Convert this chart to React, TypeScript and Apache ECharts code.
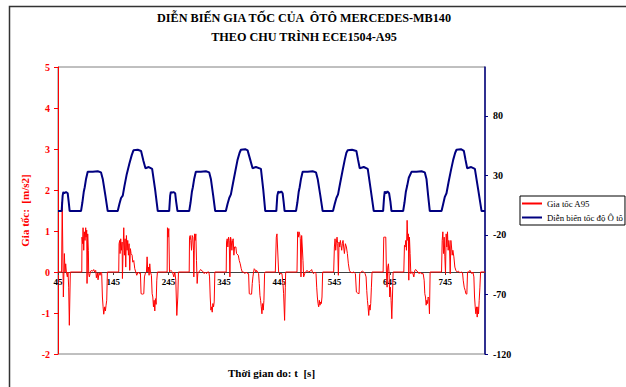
import { useEffect, useRef } from 'react';
import * as echarts from 'echarts';

const titleLines = ['DIỄN BIẾN GIA TỐC CỦA  ÔTÔ MERCEDES-MB140', 'THEO CHU TRÌNH ECE1504-A95'];
const seriesNames = ['Gia tốc A95', 'Diễn biến tốc độ Ô tô'];
const xAxisName = 'Thời gian do: t  [s]';
const yAxisName = 'Gia tốc:  [m/s2]';

// time axis: 45, 145, ... 745
const timeMin = 45;
const timeMax = 817;
const timeStep = 100;
// left axis (acceleration, m/s2)
const accelMin = -2;
const accelMax = 5;
const accelStep = 1;
// right axis (speed, km/h): ticks -120, -70, -20, 30, 80
const speedMin = -120;
const speedMax = 121;
const speedStep = 50;

// acceleration [t, a], one array per cycle
const accelCycle1: [number, number][] = [
  [45, 0], [51.5, 0], [52.6, 1.71], [54.7, -0.61], [56.5, 0.45], [57.7, 0], [58.9, 0.2], [60.1, 0], [61.9, -0.12], [63.1, 0], [64.3, -0.37], [65.5, -1.3], [67.3, 0],
  [88, 0], [88.4, 0.85], [89.6, 0.69], [90.3, 1.08], [91.5, 0.53], [92.7, 0.98], [93.9, 0.77], [95.1, 1.08], [95.7, 0.85], [96.9, 1.02], [97.5, -0.28], [98.7, 0.93], [99.9, 0.53], [100.5, -0.04], [101.7, -0.12], [103.5, 0], [105.3, 0.04], [107.8, 0.02], [109.6, 0.06], [111.4, 0], [113.2, 0.04], [114.4, -0.14], [116.2, -0.02], [117.4, -0.19], [119.2, -0.02], [121, -0.08], [122.8, 0], [124, -0.04], [125.3, -0.61], [126.5, -0.85], [127.7, -1.03], [129.5, -0.85], [130.7, -0.95], [131.9, -0.81], [133.1, -0.69], [134.3, 0],
  [154.8, 0], [155.4, 0.69], [156.6, 0.77], [157.2, 0.45], [158.4, 0.81], [159.6, 0.53], [160.9, 0.73], [161.5, -0.16], [162.7, 0.53], [163.9, 1.08], [165.1, 0.41], [166.3, 0.81], [167.5, 0.12], [168.7, 0.89], [169.9, 0.53], [171.1, 0.77], [172.3, 0.41], [173.5, 0.69], [174.7, 0.04], [175.9, 0.57], [177.1, 0.45], [179, 0.41], [180.2, 0.24], [182, 0.28], [183.8, 0.08], [185.6, 0], [187.4, -0.08], [189.8, 0], [192.2, -0.04], [194, -0.02], [195.2, -0.53], [197.7, -0.54], [200.1, -0.53], [201.3, -0.12], [203.1, -0.02], [204.9, 0], [206.1, 0.37], [207.3, 0], [208.5, 0.12], [209.7, -0.08], [210.9, 0.2], [212.1, 0], [213.9, -0.08], [215.2, -0.53], [216.4, -0.61], [217.6, -0.85], [218.8, -0.69], [220, -0.95], [221.2, -0.65], [222.4, -0.79], [223.6, -0.2], [224.8, 0],
];
const accelCycle2: [number, number][] = [
  [242.3, 0], [242.9, 1.08], [244.1, 0.85], [245.3, 1.06], [246.6, 0], [249, 0.04], [252, 0], [254.4, -0.12], [256.2, 0], [258, -0.2], [259.8, -1.06], [261.6, -0.61], [262.8, 0],
  [282.2, 0], [282.8, 0.85], [284, 0.89], [285.2, 0.77], [286.4, 0.53], [287.6, 0.89], [288.8, 0.85], [290, 0.53], [290.6, -0.12], [291.8, 0.93], [293, 0.77], [294.2, 0.93], [295.4, 0.28], [296.6, -0.28], [297.8, -0.04], [299.7, 0], [301.5, 0.04], [303.3, 0.06], [305.7, 0.02], [308.1, 0], [309.3, -0.04], [311.7, 0], [313.5, -0.04], [315.3, 0], [317.8, 0], [319, -0.12], [320.2, -0.61], [321.4, -0.93], [322.6, -0.85], [323.8, -0.98], [325, -0.77], [326.2, -0.85], [327.4, -0.73], [328.6, 0],
  [349.1, 0], [349.7, 0.73], [350.9, 0.81], [352.1, 0.61], [353.4, 0.85], [354.6, 0.77], [355.8, -0.12], [357, 0.85], [358.2, 0.77], [359.4, 0.53], [360.6, 0.77], [361.8, 0.81], [363, 0.41], [364.2, 0.61], [365.4, 0.61], [366.6, 0.61], [367.8, 0.45], [369, 0.45], [370.9, 0.41], [372.7, 0.28], [374.5, 0.2], [376.3, 0.08], [378.1, 0], [380.5, 0], [382.9, -0.04], [385.3, 0], [387.7, -0.04], [389.6, -0.04], [390.8, -0.53], [392.6, -0.54], [395, -0.54], [396.2, -0.28], [397.4, -0.12], [398.6, 0], [399.8, 0.08], [401, 0.06], [402.8, 0], [404, 0.04], [405.9, 0], [407.7, -0.04], [408.9, -0.28], [410.1, -0.57], [411.3, -0.69], [412.5, -0.85], [413.7, -1.02], [414.9, -0.77], [416.1, -0.93], [417.3, -0.69], [418.5, -0.04], [419.7, 0],
];
const accelCycle3: [number, number][] = [
  [437.9, 0], [439.7, 0.85], [440.9, 0.93], [442.1, 0.93], [443.9, 0], [445.7, -0.04], [449.9, -0.04], [451.7, -0.28], [452.9, -0.53], [454.7, -1.18], [456, -0.37], [456.6, 0],
  [477.1, 0], [478.3, 0.98], [479.5, 0.85], [480.7, 0.98], [481.9, 0.93], [483.1, 0.81], [484.3, -0.12], [485.5, 0.89], [486.7, 0.61], [487.9, 0.28], [489.1, -0.12], [491, -0.04], [492.8, 0], [495.2, 0.04], [497.6, 0], [501.2, 0.02], [503.6, 0.06], [505.4, -0.02], [507.2, -0.04], [509.7, 0], [511.5, -0.04], [512.7, -0.37], [513.9, -0.61], [515.1, -0.77], [516.3, -0.85], [517.5, -0.69], [518.7, -0.81], [519.9, -0.73], [521.1, -0.77], [522.3, -0.61], [523.5, 0],
  [543.4, 0], [544.7, 0.61], [545.9, 0.81], [547.1, 0.53], [548.3, 0.73], [549.5, 0.85], [550.7, 0.69], [551.9, -0.08], [553.1, 0.73], [554.3, 0.61], [555.5, 0.77], [556.7, 0.65], [557.9, 0.53], [559.1, 0.69], [560.3, 0.77], [561.5, 0.61], [562.8, 0.45], [564.6, 0.69], [566.4, 0.61], [568.2, 0.45], [570, 0.2], [571.8, 0.04], [573.6, 0], [576.6, -0.02], [579.7, 0], [582.7, -0.04], [584.5, -0.49], [586.3, -0.51], [589.3, -0.53], [590.5, -0.04], [592.9, 0], [595.3, 0.02], [597.8, 0], [600.2, -0.04], [602, -0.12], [603.2, -0.45], [604.4, -0.69], [605.6, -0.85], [606.8, -1.06], [608, -0.81], [609.2, -0.93], [610.4, -0.77], [611.6, -0.37], [612.8, 0],
];
const accelCycle4: [number, number][] = [
  [632.8, 0], [634, 0.85], [635.8, 0.85], [637.6, 0.85], [638.8, 0], [640, -0.37], [641.2, 0.12], [642.4, 0.2], [643.6, -0.04], [644.8, -0.61], [646, -0.37], [647.2, -0.69], [648.5, -1.14], [649.7, -0.61], [650.9, 0],
  [670.2, 0], [671.4, 0.65], [672.6, 0.61], [673.8, 0.77], [675, 0.53], [676.2, 1.26], [677.4, 0.77], [678.6, 0.93], [679.2, -0.2], [680.4, 0.85], [681.6, 0.45], [682.9, -0.04], [684.1, 0], [685.9, 0], [688.3, -0.12], [690.1, 0.04], [691.9, 0.06], [693.7, 0.02], [696.1, 0], [697.9, -0.04], [699.7, 0], [701.6, -0.04], [705.2, -0.04], [707, -0.2], [708.2, -0.53], [709.4, -0.61], [710.6, -0.81], [711.8, -0.69], [713, -0.77], [714.2, -0.61], [715.4, -0.65], [716.6, -1.02], [717.8, 0],
  [738.4, 0], [739.6, 0.77], [740.8, 0.98], [742, 0.45], [743.2, 0.85], [744.4, 0.37], [745.6, -0.04], [746.8, 0.93], [748, 0.61], [749.2, 0.98], [750.4, 0.53], [751.6, 0.77], [752.8, 0.61], [754.1, -0.04], [755.3, 0.77], [756.5, 0.61], [757.7, 0.41], [758.9, 0.53], [760.7, 0.37], [762.5, 0.12], [764.3, 0.04], [766.7, 0], [769.1, 0.02], [771.6, -0.02], [774, 0], [776.4, -0.02], [777.6, -0.2], [779.4, -0.37], [781.2, -0.45], [782.4, -0.53], [784.2, -0.54], [785.4, 0], [787.8, 0], [789.7, 0.04], [791.5, 0], [793.3, -0.04], [795.1, 0], [796.9, -0.12], [798.1, -0.61], [799.3, -0.85], [800.5, -1.02], [801.7, -0.85], [802.9, -1.1], [804.1, -0.85], [805.3, -1.02], [806.5, -0.69], [807.8, -0.37], [809, 0], [817, 0],
];

// vehicle speed [t, km/h], one array per cycle
const speedCycle1: [number, number][] = [
  [45, 0], [51.6, 0], [53.4, 13], [54.7, 16], [56.5, 15], [59.5, 16], [62.5, 15], [64.3, 8], [66.1, 0],
  [86.6, 0], [89, 7], [91.5, 16], [93.3, 20], [95.7, 27], [98.7, 33], [107.8, 33], [116.8, 33.5], [122.8, 32.5], [125.9, 27], [130.7, 13], [134.9, 0],
  [153, 0], [156, 6], [159, 11], [162.1, 13], [165.1, 21], [169.3, 31], [174.1, 40], [178.3, 47], [181.4, 51], [189.2, 51.5], [195.2, 50.5], [199.5, 42], [203.1, 36], [209.1, 37], [215.2, 35.5], [220.6, 18], [225.4, 0],
];
const speedCycle2: [number, number][] = [
  [246, 0], [247.8, 13], [249, 16], [251.4, 15.5], [253.8, 16], [256.8, 15], [258.6, 8], [261, 0],
  [282.2, 0], [284.6, 7], [287, 16], [288.8, 20], [291.2, 27], [294.2, 33], [303.3, 33], [312.3, 33.5], [318.4, 32.5], [321.4, 27], [325.6, 13], [329.2, 0],
  [348.5, 0], [351.5, 6], [354.6, 11], [357.6, 14], [361.2, 23], [365.4, 33], [369.6, 43], [373.3, 49], [375.7, 51.5], [383.5, 52], [387.8, 51], [392.6, 43], [396.8, 36], [402.8, 37], [411.9, 35.5], [416.1, 18], [419.7, 0],
];
const speedCycle3: [number, number][] = [
  [439.7, 0], [441.5, 13], [443.3, 16.5], [445.7, 15.5], [448.7, 16.5], [451.1, 15], [452.9, 8], [454.7, 0],
  [475.3, 0], [477.7, 7], [480.1, 16], [481.9, 20], [484.3, 27], [487.3, 33], [496.4, 33], [505.4, 33.5], [511.5, 32.5], [514.5, 27], [519.3, 13], [523.5, 0],
  [542.2, 0], [545.3, 6], [548.3, 11], [551.3, 14], [554.9, 23], [559.1, 33], [563.4, 43], [566.4, 49], [568.8, 51], [576.6, 51.5], [584.5, 50.5], [587.5, 43], [590.5, 36], [597.8, 37], [605, 35.5], [610.4, 18], [615.9, 0],
];
const speedCycle4: [number, number][] = [
  [632.8, 0], [634.6, 12], [635.8, 16.5], [637.6, 15], [640.6, 16.5], [643.6, 15], [646, 8], [647.9, 0],
  [669, 0], [671.4, 7], [673.8, 16], [676.2, 21], [679.2, 28], [684.1, 33], [693.1, 33], [702.2, 33.5], [708.2, 32.5], [711.2, 27], [714.2, 13], [717.2, 0],
  [738.4, 0], [741.4, 6], [744.4, 12], [747.4, 15], [751, 24], [755.3, 34], [759.5, 43], [763.1, 49], [765.5, 51.5], [773.4, 52], [778.8, 50.5], [781.8, 43], [784.8, 36], [792.1, 37], [798.7, 35.5], [804.7, 18], [810.8, 0], [817, 0],
];

const FONT = '"Liberation Serif", "Times New Roman", serif';

export default function App() {
  const ref = useRef<HTMLDivElement>(null);
  useEffect(() => {
    if (!ref.current) return;
    const chart = echarts.init(ref.current, null, { renderer: 'svg' });
    const accel = [...accelCycle1, ...accelCycle2, ...accelCycle3, ...accelCycle4];
    const speed = [...speedCycle1, ...speedCycle2, ...speedCycle3, ...speedCycle4];
    chart.setOption({
      animation: false,
      backgroundColor: '#ffffff',
      graphic: [
        {
          type: 'rect',
          shape: { x: 9.5, y: 6.5, width: 700, height: 500 },
          style: { fill: 'none', stroke: '#333333', lineWidth: 1.5 },
          silent: true,
        },
        {
          type: 'text',
          x: 304,
          y: 18,
          style: { text: titleLines[0], textAlign: 'center', textVerticalAlign: 'middle', font: `bold 12.2px ${FONT}`, fill: '#000' },
        },
        {
          type: 'text',
          x: 304,
          y: 37,
          style: { text: titleLines[1], textAlign: 'center', textVerticalAlign: 'middle', font: `bold 12.2px ${FONT}`, fill: '#000' },
        },
      ],
      legend: {
        orient: 'vertical',
        left: 520,
        top: 196,
        icon: 'rect',
        itemWidth: 20,
        itemHeight: 2,
        itemGap: 5,
        padding: [3, 2, 3, 2],
        borderColor: '#000',
        borderWidth: 1,
        backgroundColor: '#fff',
        textStyle: { fontFamily: FONT, fontSize: 8.8, color: '#000' },
        data: seriesNames,
      },
      grid: {
        left: 58,
        right: 141,
        top: 67,
        bottom: 33,
        show: true,
        borderColor: '#808080',
        borderWidth: 1,
        backgroundColor: '#fff',
        containLabel: false,
        outerBoundsMode: 'none',
      },
      xAxis: {
        type: 'value',
        position: 'bottom',
        offset: -82,
        min: timeMin,
        max: timeMax,
        interval: timeStep,
        name: xAxisName,
        nameLocation: 'middle',
        nameGap: 95,
        nameTextStyle: { fontFamily: FONT, fontSize: 11, fontWeight: 'bold', color: '#000' },
        axisLine: { onZero: false, lineStyle: { color: '#404040', width: 1 } },
        axisTick: { show: true, length: 3, lineStyle: { color: '#404040' } },
        axisLabel: { showMaxLabel: false, fontFamily: FONT, fontSize: 9, fontWeight: 'bold', color: '#000', margin: 5 },
        splitLine: { show: false },
      },
      yAxis: [
        {
          type: 'value',
          min: accelMin,
          max: accelMax,
          interval: accelStep,
          name: yAxisName,
          nameLocation: 'middle',
          nameGap: 21,
          nameRotate: 90,
          nameTextStyle: { fontFamily: FONT, fontSize: 11, fontWeight: 'bold', color: '#ff0000' },
          axisLine: { show: true, onZero: false, lineStyle: { color: '#ff0000', width: 1 } },
          axisTick: { show: true, length: 4, lineStyle: { color: '#ff0000' } },
          axisLabel: { fontFamily: FONT, fontSize: 10, fontWeight: 'bold', color: '#ff0000', margin: 8 },
          splitLine: { show: false },
        },
        {
          type: 'value',
          position: 'right',
          min: speedMin,
          max: speedMax,
          interval: speedStep,
          axisLine: { show: true, onZero: false, lineStyle: { color: '#000080', width: 1.5 } },
          axisTick: { show: true, length: 3, lineStyle: { color: '#000080' } },
          axisLabel: { showMaxLabel: false, fontFamily: FONT, fontSize: 10, fontWeight: 'bold', color: '#000', margin: 8 },
          splitLine: { show: false },
        },
      ],
      series: [
        {
          name: seriesNames[0],
          type: 'line',
          yAxisIndex: 0,
          data: accel,
          symbol: 'none',
          lineStyle: { color: '#ff0000', width: 1 },
          itemStyle: { color: '#ff0000' },
        },
        {
          name: seriesNames[1],
          type: 'line',
          yAxisIndex: 1,
          data: speed,
          symbol: 'none',
          lineStyle: { color: '#000080', width: 2 },
          itemStyle: { color: '#000080' },
        },
      ],
    });
    return () => chart.dispose();
  }, []);
  return <div ref={ref} style={{ position: 'fixed', left: 0, top: 0, width: 626, height: 387 }} />;
}
